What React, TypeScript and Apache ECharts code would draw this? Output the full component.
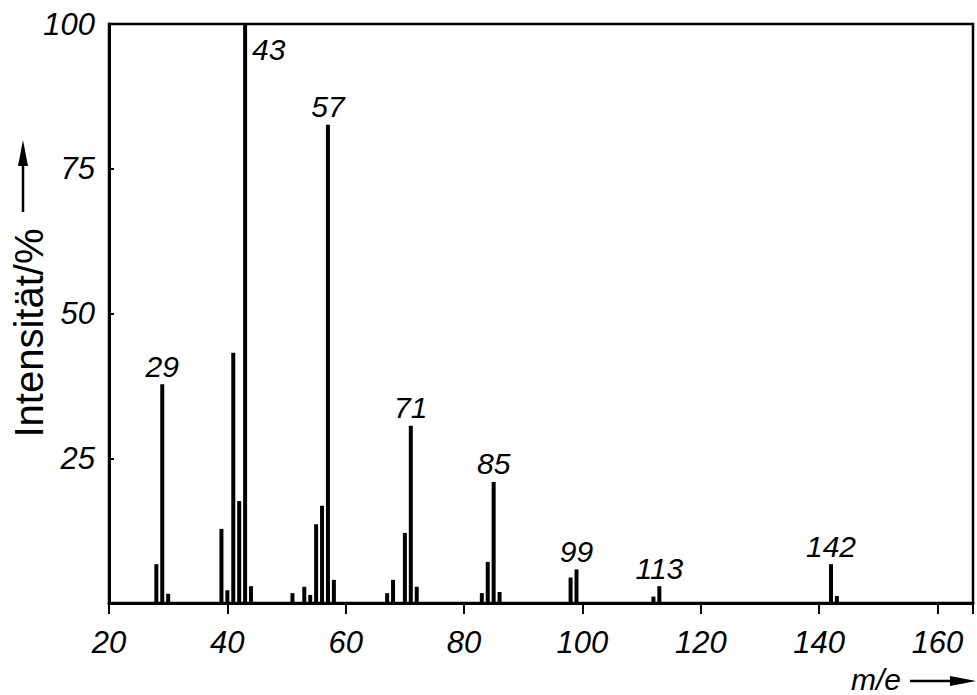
import React, { useEffect, useRef } from "react";
import * as echarts from "echarts";

const mz = [28, 29, 30, 39, 40, 41, 42, 43, 44, 51, 53, 54, 55, 56, 57, 58, 67, 68, 70, 71, 72, 83, 84, 85, 86, 98, 99, 112, 113, 142, 143];
const intensity = [6.7, 37.8, 1.6, 12.8, 2.2, 43.2, 17.6, 100, 2.9, 1.7, 2.8, 1.4, 13.6, 16.8, 82.6, 4.0, 1.7, 4.0, 12.1, 30.6, 2.8, 1.7, 7.1, 20.9, 1.9, 4.4, 5.8, 1.1, 2.9, 6.7, 1.2];
const labelledPeaks = [29, 43, 57, 71, 85, 99, 113, 142];
const xTicks = [20, 40, 60, 80, 100, 120, 140, 160];
const yTicks = [25, 50, 75, 100];

const FONT = "'Liberation Sans Narrow', 'Liberation Sans', Arial, sans-serif";

export default function App() {
  const ref = useRef<HTMLDivElement>(null);
  useEffect(() => {
    if (!ref.current) return;
    const chart = echarts.init(ref.current, null, { renderer: "svg" });
    const data = mz.map((m, i) => {
      const item: any = { value: [m, intensity[i]] };
      if (labelledPeaks.includes(m)) {
        item.label =
          m === 43
            ? { show: true, position: [9, 10], align: "left", verticalAlign: "top" }
            : { show: true, position: "top", distance: 3 };
      }
      return item;
    });
    chart.setOption({
      animation: false,
      backgroundColor: "#fff",
      grid: {
        left: 109,
        right: 4,
        top: 24,
        bottom: 92,
        show: true,
        borderColor: "#000",
        borderWidth: 2.5,
      },
      xAxis: {
        type: "value",
        min: 20,
        max: 166,
        interval: 20,
        axisLine: { show: true, lineStyle: { color: "#000", width: 3 } },
        axisTick: { show: true, inside: false, length: 11, lineStyle: { color: "#000", width: 2 } },
        splitLine: { show: false },
        axisLabel: {
          margin: 24,
          color: "#000",
          fontSize: 31,
          fontStyle: "italic",
          fontFamily: FONT,
          formatter: (v: number) => (xTicks.includes(v) ? String(v) : ""),
        },
      },
      yAxis: {
        type: "value",
        min: 0,
        max: 100,
        interval: 25,
        axisLine: { show: true, lineStyle: { color: "#000", width: 3 } },
        axisTick: { show: true, inside: true, length: 5, lineStyle: { color: "#000", width: 2 } },
        splitLine: { show: false },
        axisLabel: {
          margin: 14,
          color: "#000",
          fontSize: 31,
          fontStyle: "italic",
          fontFamily: FONT,
          formatter: (v: number) => (yTicks.includes(v) ? String(v) : ""),
        },
      },
      series: [
        {
          type: "bar",
          barWidth: 4,
          itemStyle: { color: "#000" },
          label: {
            color: "#000",
            fontSize: 30,
            fontStyle: "italic",
            fontFamily: FONT,
            formatter: (p: any) => String(p.value[0]),
          },
          data,
        },
      ],
      graphic: [
        {
          type: "text",
          x: 29,
          y: 333,
          rotation: Math.PI / 2,
          style: {
            text: "Intensität/%",
            fill: "#000",
            fontSize: 40,
            fontFamily: "'Liberation Sans', Arial, sans-serif",
            textAlign: "center",
            textVerticalAlign: "middle",
          },
        },
        {
          type: "line",
          shape: { x1: 23, y1: 212, x2: 23, y2: 160 },
          style: { stroke: "#000", lineWidth: 2.5 },
        },
        {
          type: "polygon",
          shape: { points: [[23, 140], [18, 166], [28, 166]] },
          style: { fill: "#000" },
        },
        {
          type: "text",
          x: 851,
          y: 679,
          style: {
            text: "m/e",
            fill: "#000",
            fontSize: 30,
            fontStyle: "italic",
            fontFamily: FONT,
            textAlign: "left",
            textVerticalAlign: "middle",
          },
        },
        {
          type: "line",
          shape: { x1: 910, y1: 681, x2: 955, y2: 681 },
          style: { stroke: "#000", lineWidth: 2.5 },
        },
        {
          type: "polygon",
          shape: { points: [[976, 681], [950, 676], [950, 686]] },
          style: { fill: "#000" },
        },
      ],
    });
    return () => chart.dispose();
  }, []);
  return (
    <div
      ref={ref}
      style={{ position: "fixed", left: 0, top: 0, width: 977, height: 695 }}
    />
  );
}
